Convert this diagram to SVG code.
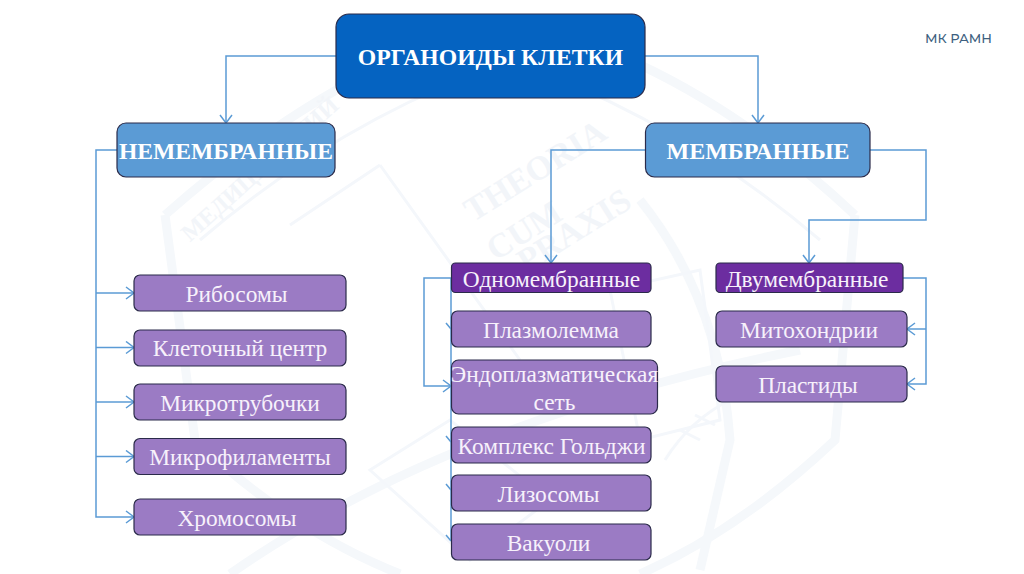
<svg xmlns="http://www.w3.org/2000/svg" width="1024" height="574" viewBox="0 0 1024 574">
<style>
.box{stroke:#2b2b4a;stroke-width:1.2}
.top{fill:#0563c1}
.blue{fill:#5b9bd5}
.dark{fill:#6c2da0}
.lil{fill:#9b7bc4}
.t{font-family:"Liberation Serif","Times New Roman",serif;fill:#fff;text-anchor:middle}
.b{font-weight:bold}
.s{font-size:23.400px;fill:#f7f1fb}
.c{fill:none;stroke:#5b9bd5;stroke-width:1.5}
.wm{fill:none;stroke:#f5f8fb;stroke-width:9}
.wn{fill:none;stroke:#f4f7fb;stroke-width:3}
.wt{font-family:"Liberation Serif",serif;font-weight:bold;font-size:34px;fill:#f2f5f9;text-anchor:middle}
</style>
<defs>
<marker id="a" markerUnits="userSpaceOnUse" markerWidth="14" markerHeight="14" refX="11" refY="7" orient="auto">
<path d="M3 1 L11 7 L3 13" fill="none" stroke="#5b9bd5" stroke-width="1.5"/>
</marker>
</defs>
<rect width="1024" height="574" fill="#ffffff"/>
<g id="watermark">
<path class="wm" d="M165 215 Q340 60 510 20 Q690 60 855 215"/>
<path class="wm" d="M165 215 L195 440 Q290 530 400 574"/>
<path class="wm" d="M855 215 L835 440 Q740 530 640 574"/>
<path class="wn" d="M200 240 Q340 120 510 60 Q680 120 820 240"/>
<path class="wn" d="M380 165 L520 360 M380 165 L290 225"/>
<path class="wm" d="M230 574 Q450 420 800 350"/>
<path class="wm" d="M640 200 Q720 300 730 440 L700 570"/>
<path class="wn" d="M370 470 L450 420 L550 500 L470 560 Z M610 290 L700 270 L720 420 L640 440 Z"/>
<path class="wn" d="M665 460 Q690 420 730 400 M680 430 L700 440 M695 415 L715 425"/>
<text class="wt" transform="translate(541 180) rotate(-32)">THEORIA</text>
<text class="wt" transform="translate(530 240) rotate(-32)">CUM</text>
<text class="wt" transform="translate(580 240) rotate(-32)">PRAXIS</text>
<text class="wt" style="font-size:24px" transform="translate(265 175) rotate(-42)">МЕДИЦИНСКИЙ</text>
</g>
<g id="connectors">
<path class="c" marker-end="url(#a)" d="M336 56H226V123"/>
<path class="c" marker-end="url(#a)" d="M645 56H758V123"/>
<path class="c" marker-end="url(#a)" d="M117 150H96V517H134"/>
<path class="c" marker-end="url(#a)" d="M96 293H134"/>
<path class="c" marker-end="url(#a)" d="M96 347.500H134"/>
<path class="c" marker-end="url(#a)" d="M96 402H134"/>
<path class="c" marker-end="url(#a)" d="M96 456.500H134"/>
<path class="c" marker-end="url(#a)" d="M645 150H551V263"/>
<path class="c" marker-end="url(#a)" d="M870 150H926V220H809V263"/>
<path class="c" marker-end="url(#a)" d="M451 278H424V386H451"/>
<path class="c" d="M451 278V541"/>
<path class="c" d="M446 323L451 329M446 436L451 442M446 484L451 490M446 535L451 541"/>
<path class="c" marker-end="url(#a)" d="M903 278H926V384H907"/>
<path class="c" marker-end="url(#a)" d="M926 329H907"/>
</g>
<g id="n-root"><rect class="box top" x="336" y="14" width="309" height="84" rx="13"/><text class="t b" x="490.500" y="65" font-size="23.700">ОРГАНОИДЫ КЛЕТКИ</text></g>
<g id="n-nonmem"><rect class="box blue" x="117" y="123" width="218" height="54" rx="9"/><text class="t b" x="226" y="158.500" font-size="24" textLength="214" lengthAdjust="spacingAndGlyphs">НЕМЕМБРАННЫЕ</text></g>
<g id="n-mem"><rect class="box blue" x="645.500" y="123" width="224.500" height="54" rx="9"/><text class="t b" x="758" y="158.500" font-size="24">МЕМБРАННЫЕ</text></g>
<g id="n-ribo"><rect class="box lil" x="134" y="275" width="212" height="36" rx="6"/><text class="t s" x="236.500" y="302">Рибосомы</text></g>
<g id="n-centr"><rect class="box lil" x="134" y="330" width="212" height="36" rx="6"/><text class="t s" x="240" y="356">Клеточный центр</text></g>
<g id="n-tub"><rect class="box lil" x="134" y="384" width="212" height="36" rx="6"/><text class="t s" x="240" y="411">Микротрубочки</text></g>
<g id="n-fil"><rect class="box lil" x="134" y="438.500" width="212" height="36" rx="6"/><text class="t s" x="240" y="465">Микрофиламенты</text></g>
<g id="n-chrom"><rect class="box lil" x="134" y="499" width="212" height="36" rx="6"/><text class="t s" x="237" y="526">Хромосомы</text></g>
<g id="n-one"><rect class="box dark" x="451.500" y="263" width="199.500" height="29.500" rx="4"/><text class="t s" x="551.500" y="287">Одномембранные</text></g>
<g id="n-plasma"><rect class="box lil" x="451.500" y="311" width="199.500" height="36" rx="6"/><text class="t s" x="551" y="338">Плазмолемма</text></g>
<g id="n-er"><rect class="box lil" x="451.500" y="360" width="206" height="54" rx="7"/><text class="t s" x="554.500" y="382">Эндоплазматическая</text><text class="t s" x="554.500" y="410">сеть</text></g>
<g id="n-golgi"><rect class="box lil" x="451.500" y="427" width="199.500" height="36" rx="6"/><text class="t s" x="551.500" y="454">Комплекс Гольджи</text></g>
<g id="n-lyso"><rect class="box lil" x="451.500" y="475" width="199.500" height="36" rx="6"/><text class="t s" x="548.500" y="502">Лизосомы</text></g>
<g id="n-vac"><rect class="box lil" x="451.500" y="524" width="199.500" height="36" rx="6"/><text class="t s" x="548.500" y="551">Вакуоли</text></g>
<g id="n-two"><rect class="box dark" x="716" y="263" width="187" height="29.500" rx="4"/><text class="t s" x="807" y="287">Двумембранные</text></g>
<g id="n-mito"><rect class="box lil" x="716" y="311" width="191" height="36" rx="6"/><text class="t s" x="809" y="338">Митохондрии</text></g>
<g id="n-plast"><rect class="box lil" x="716" y="366" width="191" height="36" rx="6"/><text class="t s" x="808" y="393">Пластиды</text></g>
<text x="958.500" y="43" font-family="Montserrat,'Noto Sans','Open Sans',sans-serif" font-size="13" font-weight="500" fill="#3e5f7f" text-anchor="middle">МК РАМН</text>
</svg>
